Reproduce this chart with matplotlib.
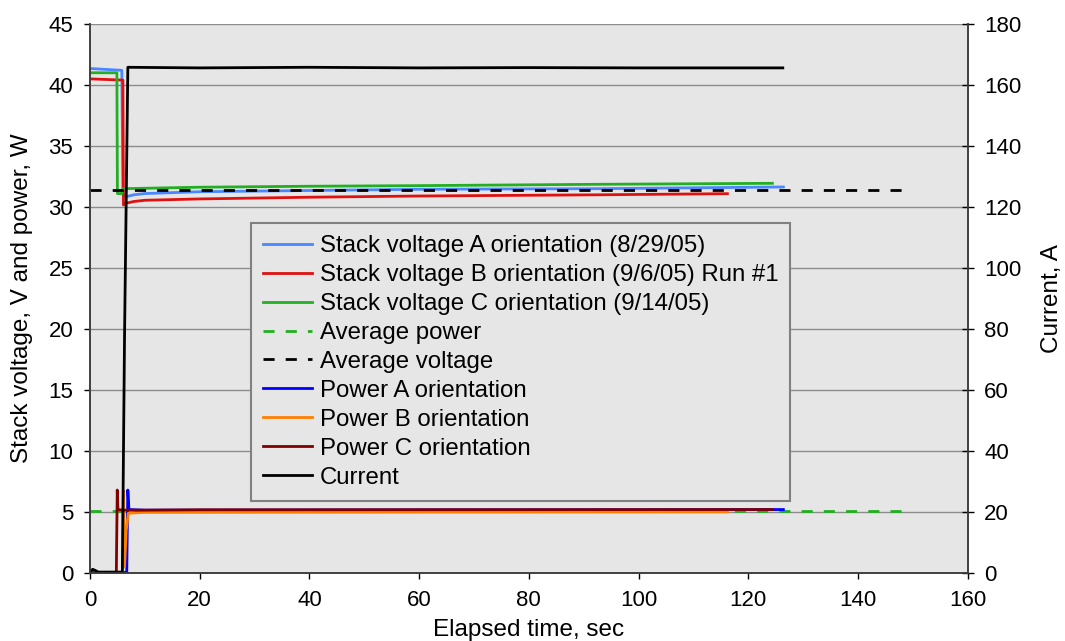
"""Stack voltage, power and current vs elapsed time."""

import matplotlib
matplotlib.use("Agg")
import matplotlib.pyplot as plt

plt.rcParams["font.family"] = ["Liberation Sans", "DejaVu Sans"]

# stack voltages (V)
t_va = [0, 5.8, 6.0, 6.7, 8, 10, 20, 40, 60, 93, 126.4]
v_a = [41.35, 41.2, 31.0, 30.85, 31.0, 31.1, 31.25, 31.35, 31.45, 31.5, 31.64]
t_vb = [0, 6.0, 6.1, 6.5, 8, 10, 20, 40, 60, 93, 116.2]
v_b = [40.5, 40.4, 30.16, 30.3, 30.45, 30.55, 30.66, 30.8, 30.9, 31.0, 31.09]
t_vc = [0, 4.9, 5.0, 5.8, 6.0, 20, 40, 60, 93, 124.4]
v_c = [41.0, 41.0, 31.1, 31.1, 31.5, 31.62, 31.7, 31.75, 31.86, 31.94]

# averages
t_avg = [0, 148.4]
avg_power = [5.1, 5.1]
avg_voltage = [31.37, 31.37]

# power (W)
t_pa = [0, 6.7, 6.9, 7.1, 10, 126.4]
p_a = [0.05, 0.05, 6.8, 5.2, 5.15, 5.2]
t_pb = [0, 5.9, 6.1, 6.3, 6.6, 7, 10, 116.2]
p_b = [0.0, 0.0, 6.75, 0.5, 3.5, 4.9, 4.97, 5.02]
t_pc = [0, 4.8, 4.97, 5.1, 6, 10, 20, 124.4]
p_c = [0.0, 0.0, 6.8, 5.2, 5.15, 5.15, 5.18, 5.2]

# current (A)
t_i = [0, 0.5, 1.0, 1.5, 5.9, 6.3, 6.9, 20, 40, 60, 80, 100, 126.3]
cur = [0.5, 1.2, 0.8, 0.3, 0.3, 78, 165.8, 165.6, 165.8, 165.6, 165.7, 165.6, 165.6]

fs_tick = 16
fs_lab = 17.5
fs_leg = 17.3
fig = plt.figure(figsize=(10.65, 6.41), dpi=100)
ax = fig.add_axes([0.0845, 0.1061, 0.8241, 0.8565])
ax.set_facecolor("#e6e6e6")
ax2 = ax.twinx()

lw = 2
h = []
h += ax.plot(t_va, v_a, color="#4a86ff", lw=lw, label="Stack voltage A orientation (8/29/05)")
h += ax.plot(t_vb, v_b, color="#e01010", lw=lw, label="Stack voltage B orientation (9/6/05) Run #1")
h += ax.plot(t_vc, v_c, color="#22b022", lw=lw, label="Stack voltage C orientation (9/14/05)")
h += ax.plot(t_avg, avg_power, color="#22b022", lw=lw, ls=(0, (4, 4)), label="Average power")
h += ax.plot(t_avg, avg_voltage, color="black", lw=lw, ls=(0, (4, 4)), label="Average voltage")
h += ax.plot(t_pa, p_a, color="#0000ff", lw=lw, label="Power A orientation")
h += ax.plot(t_pb, p_b, color="#ff7f00", lw=lw, label="Power B orientation")
h += ax.plot(t_pc, p_c, color="#800000", lw=lw, label="Power C orientation")
h += ax2.plot(t_i, cur, color="black", lw=lw, label="Current")

ax.set_xlim(0, 160)
ax.set_ylim(0, 45)
ax.set_xticks(range(0, 161, 20))
ax.set_yticks(range(0, 46, 5))
ax2.set_ylim(0, 180)
ax2.set_yticks(range(0, 181, 20))

ax.grid(axis="y", color="#8c8c8c", lw=1)
ax.set_axisbelow(True)
for a in (ax, ax2):
    a.spines["top"].set_visible(False)
    for s in ("left", "right", "bottom"):
        a.spines[s].set_color("#404040")
        a.spines[s].set_linewidth(1.2)
ax.tick_params(direction="out", length=4, width=1, colors="black",
               labelsize=fs_tick, pad=8)
ax.tick_params(axis="x", pad=8.5)
ax2.tick_params(direction="inout", length=8, width=1, colors="black",
                labelsize=fs_tick, pad=8)
ax.set_xlabel("Elapsed time, sec", fontsize=fs_lab, labelpad=5.5)
ax.set_ylabel("Stack voltage, V and power, W", fontsize=fs_lab, labelpad=11)
ax2.set_ylabel("Current, A", fontsize=fs_lab, labelpad=14)

leg = ax2.legend(handles=h, loc="upper left", bbox_to_anchor=(0.1835, 0.6375),
                 borderaxespad=0, fontsize=fs_leg, frameon=True, fancybox=False,
                 handlelength=2.05, handletextpad=0.3, labelspacing=0.29,
                 borderpad=0.5)
leg.get_frame().set_facecolor("#e6e6e6")
leg.get_frame().set_edgecolor("#808080")
leg.get_frame().set_linewidth(1.5)
leg.get_frame().set_alpha(1)

fig.savefig("out.png", dpi=100)
